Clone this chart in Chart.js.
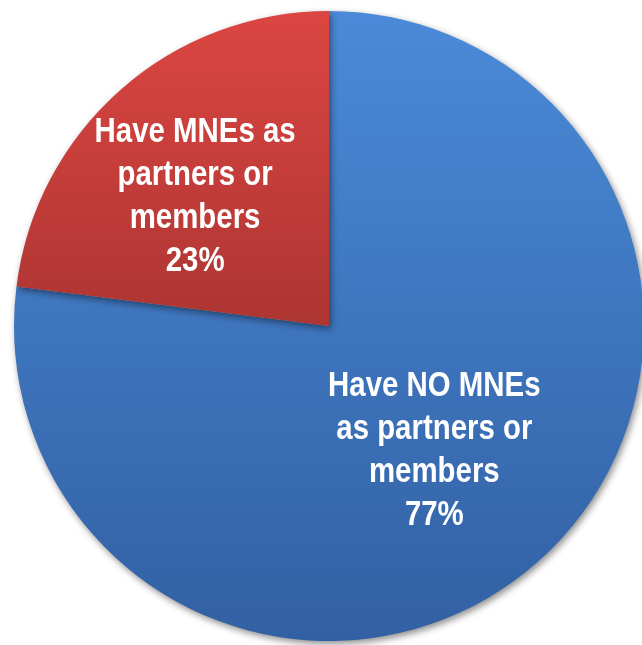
<!DOCTYPE html>
<html>
<head>
<meta charset="utf-8">
<script src="https://cdn.jsdelivr.net/npm/chart.js@4"></script>
<style>
    html, body { margin: 0; padding: 0; background: #ffffff; overflow: hidden; }
    #wrap { position: absolute; left: 0; top: 0; }
</style>
</head>
<body>
<div id="wrap"><canvas id="canvas" width="658" height="652"></canvas></div>
<script>
var categories = ['Have NO MNEs as partners or members', 'Have MNEs as partners or members'];
var shares = [77, 23];
var labelLines = [
    ['Have NO MNEs', 'as partners or', 'members', '77%'],
    ['Have MNEs as', 'partners or', 'members', '23%']
];
var topColors = ['#4a8ad8', '#dc4642'];
var bottomColors = ['#3260a3', '#7e2422'];

function sliceGradient(context) {
    var chart = context.chart;
    var area = chart.chartArea;
    if (!area) {
        return topColors[context.dataIndex];
    }
    var g = chart.ctx.createLinearGradient(0, area.top, 0, area.bottom);
    g.addColorStop(0, topColors[context.dataIndex]);
    g.addColorStop(1, bottomColors[context.dataIndex]);
    return g;
}

// soft drop shadow under the pie
var shadowPlugin = {
    id: 'pieShadow',
    beforeDatasetDraw: function (chart) {
        var ctx = chart.ctx;
        ctx.save();
        ctx.shadowColor = 'rgba(0, 0, 0, 0.45)';
        ctx.shadowBlur = 7;
        ctx.shadowOffsetX = 2;
        ctx.shadowOffsetY = 3;
    },
    afterDatasetDraw: function (chart) {
        chart.ctx.restore();
    }
};

// multi-line white labels inside each slice
var sliceLabels = {
    id: 'sliceLabels',
    afterDatasetsDraw: function (chart, args, opts) {
        var ctx = chart.ctx;
        var meta = chart.getDatasetMeta(0);
        meta.data.forEach(function (arc, i) {
            var p = arc.getProps(['x', 'y', 'startAngle', 'endAngle', 'outerRadius'], true);
            var mid = (p.startAngle + p.endAngle) / 2;
            var r = p.outerRadius * opts.radius[i];
            var cx = p.x + Math.cos(mid) * r + opts.nudge[i][0];
            var cy = p.y + Math.sin(mid) * r + opts.nudge[i][1];
            var lines = labelLines[i];
            var total = (lines.length - 1) * opts.lineHeight;
            ctx.save();
            ctx.fillStyle = '#ffffff';
            ctx.font = 'bold ' + opts.size + 'px "Liberation Sans", Arial, sans-serif';
            ctx.textAlign = 'center';
            ctx.textBaseline = 'middle';
            lines.forEach(function (line, k) {
                ctx.save();
                ctx.translate(cx, cy - total / 2 + k * opts.lineHeight);
                ctx.scale(opts.squeeze, 1);
                ctx.fillText(line, 0, 0);
                ctx.restore();
            });
            ctx.restore();
        });
    }
};

var chart = new Chart(document.getElementById('canvas'), {
    type: 'pie',
    data: {
        labels: categories,
        datasets: [{
            data: shares,
            backgroundColor: sliceGradient,
            borderWidth: 0
        }]
    },
    options: {
        responsive: false,
        animation: false,
        layout: {
            padding: { top: 11, bottom: 11, left: 0, right: 0 }
        },
        plugins: {
            legend: { display: false },
            tooltip: { enabled: false },
            sliceLabels: {
                radius: [0.52, 0.59],
                nudge: [[-3, 2], [-11, 10]],
                size: 35,
                lineHeight: 43,
                squeeze: 0.84
            }
        }
    },
    plugins: [shadowPlugin, sliceLabels]
});
</script>
</body>
</html>
